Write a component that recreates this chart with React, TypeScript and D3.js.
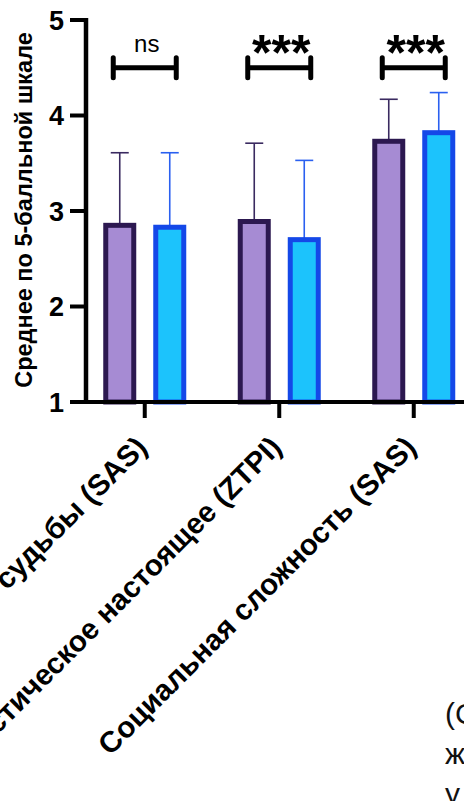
import React from "react";
import * as d3 from "d3";

const categories = [
  "Контроль судьбы (SAS)",
  "Фаталистическое настоящее (ZTPI)",
  "Социальная сложность (SAS)",
];
const seriesKeys = ["group1", "group2"];
const meansGroup1 = [2.85, 2.89, 3.73];
const meansGroup2 = [2.83, 2.7, 3.82];
const sdGroup1 = [0.76, 0.82, 0.44];
const sdGroup2 = [0.78, 0.83, 0.42];
const significance = ["ns", "***", "***"];
const bracketLevel = 4.5;
const yTicks = [1, 2, 3, 4, 5];
const yLabel = "Среднее по 5-балльной шкале";
const noteLines = ["(С", "ж", "у"];

const W = 464;
const H = 801;
const FONT = "'Liberation Sans', Arial, Helvetica, sans-serif";

const fills = { group1: "#a68bd3", group2: "#1cc3fc" };
const strokes = { group1: "#2c1850", group2: "#1448e8" };
const errColors = { group1: "#3a2a60", group2: "#2a60f0" };

export default function App() {
  const y = d3.scaleLinear().domain([1, 5]).range([402, 20]);
  const x0 = d3.scaleBand().domain(categories).range([77.5, 481]).padding(0);
  const x1 = d3.scaleBand().domain(seriesKeys).range([-50, 50]).padding(0);
  const axisX = 86;
  const barW = 28;

  const data = categories.map((c, i) => ({
    cat: c,
    values: [
      { key: "group1", mean: meansGroup1[i], sd: sdGroup1[i] },
      { key: "group2", mean: meansGroup2[i], sd: sdGroup2[i] },
    ],
    sig: significance[i],
  }));

  const cx = (c: string) => (x0(c) as number) + x0.bandwidth() / 2;
  const sx = (k: string) => (x1(k) as number) + x1.bandwidth() / 2;

  return (
    <svg
      width={W}
      height={H}
      style={{ position: "absolute", left: 0, top: 0, background: "#fff" }}
      fontFamily={FONT}
    >
      <rect x={0} y={0} width={W} height={H} fill="#fff" />
      {/* bars */}
      {data.map((d) => (
        <g key={d.cat} transform={`translate(${cx(d.cat)},0)`}>
          {d.values.map((v) => {
            const bx = sx(v.key);
            const top = y(v.mean);
            const errTop = y(v.mean + v.sd);
            return (
              <g key={v.key}>
                <line
                  x1={bx}
                  x2={bx}
                  y1={top}
                  y2={errTop}
                  stroke={(errColors as any)[v.key]}
                  strokeWidth={1.6}
                />
                <line
                  x1={bx - 9}
                  x2={bx + 9}
                  y1={errTop}
                  y2={errTop}
                  stroke={(errColors as any)[v.key]}
                  strokeWidth={1.6}
                />
                <rect
                  x={bx - barW / 2}
                  y={top}
                  width={barW}
                  height={y(1) - top}
                  fill={(fills as any)[v.key]}
                  stroke={(strokes as any)[v.key]}
                  strokeWidth={5}
                />
              </g>
            );
          })}
        </g>
      ))}

      {/* significance brackets */}
      {data.map((d) => {
        const c = cx(d.cat);
        const by = y(bracketLevel);
        const hw = 31.5;
        const isStars = d.sig !== "ns";
        return (
          <g key={"b" + d.cat}>
            <path
              d={`M${c - hw},${by - 10}V${by + 10}M${c - hw},${by}H${c + hw}M${c + hw},${by - 10}V${by + 10}`}
              fill="none"
              stroke="#000"
              strokeWidth={5}
              strokeLinecap="round"
            />
            <text
              x={c + 2}
              y={isStars ? by + 2 : by - 16}
              textAnchor="middle"
              fontSize={isStars ? 50 : 24}
              fontWeight={isStars ? 700 : 400}
              fill="#000"
            >
              {d.sig}
            </text>
          </g>
        );
      })}

      {/* y axis */}
      <line x1={axisX} x2={axisX} y1={y(5) - 2} y2={y(1) + 2} stroke="#000" strokeWidth={4.5} />
      {yTicks.map((t) => (
        <g key={t}>
          <line x1={70} x2={axisX} y1={y(t)} y2={y(t)} stroke="#000" strokeWidth={4} />
          <text
            x={64}
            y={y(t) + 9.7}
            textAnchor="end"
            fontSize={27}
            fontWeight={700}
            fill="#000"
          >
            {t}
          </text>
        </g>
      ))}
      <text
        transform={`translate(31.5,${210}) rotate(-90)`}
        textAnchor="middle"
        fontSize={23.5}
        fontWeight={700}
        fill="#000"
      >
        {yLabel}
      </text>

      {/* x axis */}
      <line x1={axisX - 2} x2={W + 5} y1={y(1)} y2={y(1)} stroke="#000" strokeWidth={4} />
      {categories.map((c) => (
        <g key={"t" + c}>
          <line x1={cx(c)} x2={cx(c)} y1={y(1)} y2={418} stroke="#000" strokeWidth={4} />
          <text
            transform={`translate(${cx(c) + 4},449) rotate(-45)`}
            textAnchor="end"
            fontSize={29.5}
            fontWeight={700}
            fill="#000"
          >
            {c}
          </text>
        </g>
      ))}

      {/* cut-off note text at bottom right */}
      {noteLines.map((t, i) => (
        <text key={"n" + i} x={445} y={724 + i * 40} fontSize={30} fill="#111">
          {t}
        </text>
      ))}
    </svg>
  );
}
